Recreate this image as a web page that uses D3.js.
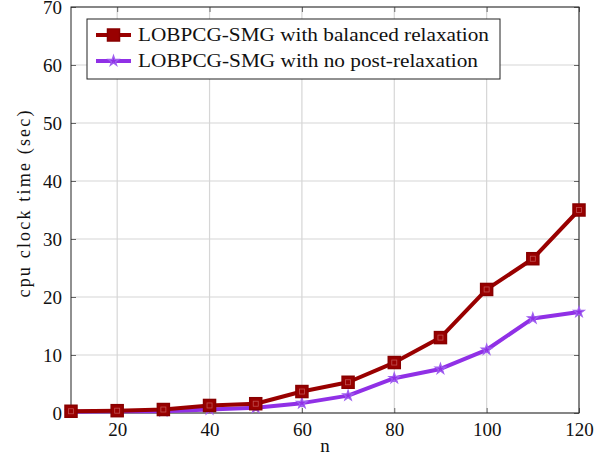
<!DOCTYPE html>
<html>
<head>
<meta charset="utf-8">
<script src="https://cdn.jsdelivr.net/npm/d3@7"></script>
<style>
  html, body { margin: 0; padding: 0; background: #fff; }
  svg { display: block; }
  text { font-family: "Liberation Serif", "DejaVu Serif", serif; fill: #111; }
</style>
</head>
<body>
<svg id="chart" width="605" height="456"></svg>
<script>
// Problem sizes n
const sizes = [10, 20, 30, 40, 50, 60, 70, 80, 90, 100, 110, 120];
// CPU clock time (sec), LOBPCG-SMG with balanced relaxation
const balanced = [0.3, 0.4, 0.6, 1.3, 1.6, 3.7, 5.3, 8.7, 13.0, 21.3, 26.6, 35.0];
// CPU clock time (sec), LOBPCG-SMG with no post-relaxation
const noPost = [0.2, 0.3, 0.3, 0.6, 0.9, 1.7, 3.0, 6.0, 7.6, 10.9, 16.3, 17.4];
const seriesNames = ["LOBPCG-SMG with balanced relaxation", "LOBPCG-SMG with no post-relaxation"];
const xTicks = [20, 40, 60, 80, 100, 120];
const yTicks = [0, 10, 20, 30, 40, 50, 60, 70];

const svg = d3.select("#chart");
const pL = 71, pR = 579, pT = 7, pB = 413;
const fontFam = '"Liberation Serif", "DejaVu Serif", serif';

const x = d3.scaleLinear().domain([10, 120]).range([pL, pR]);
const y = d3.scaleLinear().domain([0, 70]).range([pB, pT]);

// grid
const grid = svg.append("g");
grid.selectAll(".gx").data(xTicks).join("line")
  .attr("x1", d => x(d)).attr("x2", d => x(d))
  .attr("y1", pT).attr("y2", pB)
  .attr("stroke", "#d6d6d6").attr("stroke-width", 1.2);
grid.selectAll(".gy").data(yTicks).join("line")
  .attr("x1", pL).attr("x2", pR)
  .attr("y1", d => y(d)).attr("y2", d => y(d))
  .attr("stroke", "#d6d6d6").attr("stroke-width", 1.2);

// axes with inward ticks
const tickLen = 5;
const xAxisB = d3.axisBottom(x).tickValues(xTicks).tickSize(-tickLen).tickPadding(10);
const xAxisT = d3.axisTop(x).tickValues(xTicks).tickSize(-tickLen).tickFormat("");
const yAxisL = d3.axisLeft(y).tickValues(yTicks).tickSize(-tickLen).tickPadding(9);
const yAxisR = d3.axisRight(y).tickValues(yTicks).tickSize(-tickLen).tickFormat("");

function styleAxis(g) {
  g.select(".domain").remove();
  g.selectAll(".tick line").attr("stroke", "#666").attr("stroke-width", 1);
  g.selectAll(".tick text").style("font-size", "19px").attr("fill", "#111")
    .style("font-family", fontFam);
}
svg.append("g").attr("transform", `translate(0,${pB})`).call(xAxisB).call(styleAxis);
svg.append("g").attr("transform", `translate(0,${pT})`).call(xAxisT).call(styleAxis);
svg.append("g").attr("transform", `translate(${pL},0)`).call(yAxisL).call(styleAxis)
  .selectAll(".tick text").attr("dy", "0.36em");
svg.append("g").attr("transform", `translate(${pR},0)`).call(yAxisR).call(styleAxis);

// frame
svg.append("rect").attr("x", pL).attr("y", pT)
  .attr("width", pR - pL).attr("height", pB - pT)
  .attr("fill", "none").attr("stroke", "#222").attr("stroke-width", 1);

// axis titles
svg.append("text").attr("x", (pL + pR) / 2).attr("y", 452)
  .attr("text-anchor", "middle").style("font-size", "19px").text("n");
svg.append("text")
  .attr("transform", `translate(30,${(pT + pB) / 2 - 6}) rotate(-90)`)
  .attr("text-anchor", "middle").style("font-size", "18px")
  .attr("textLength", 187).attr("lengthAdjust", "spacing")
  .text("cpu clock time (sec)");

const red = "#990000", purple = "#9030e6";
const line = d3.line().x((d, i) => x(sizes[i])).y(d => y(d));

const plot = svg.append("g");

// no post-relaxation series
plot.append("path").datum(noPost).attr("d", line)
  .attr("fill", "none").attr("stroke", purple).attr("stroke-width", 4)
  .attr("stroke-linejoin", "round");
const star = d3.symbol().type(d3.symbolStar).size(34);
plot.selectAll(".mp").data(noPost).join("path")
  .attr("transform", (d, i) => `translate(${x(sizes[i])},${y(d)})`)
  .attr("d", star).attr("fill", purple).attr("stroke", "#a060f0").attr("stroke-width", 1.2);

// balanced relaxation series
plot.append("path").datum(balanced).attr("d", line)
  .attr("fill", "none").attr("stroke", red).attr("stroke-width", 4)
  .attr("stroke-linejoin", "round");
const sq = 12;
const mr = plot.selectAll(".mr").data(balanced).join("g")
  .attr("transform", (d, i) => `translate(${x(sizes[i])},${y(d)})`);
mr.append("rect").attr("x", -sq / 2).attr("y", -sq / 2).attr("width", sq).attr("height", sq)
  .attr("fill", red).attr("stroke", "#880000").attr("stroke-width", 1.5);
mr.append("rect").attr("x", -2.5).attr("y", -2.5).attr("width", 5).attr("height", 5)
  .attr("fill", "none").attr("stroke", "#c05050").attr("stroke-width", 0.8);

// legend
const lg = svg.append("g");
lg.append("rect").attr("x", 87).attr("y", 19).attr("width", 413).attr("height", 60)
  .attr("fill", "#fff").attr("stroke", "#222").attr("stroke-width", 1);
const legendItems = [
  { name: seriesNames[0], color: red, kind: "square", w: 351 },
  { name: seriesNames[1], color: purple, kind: "star", w: 340 }
];
legendItems.forEach((it, i) => {
  const cy = 35 + i * 26;
  lg.append("line").attr("x1", 96).attr("x2", 131).attr("y1", cy).attr("y2", cy)
    .attr("stroke", it.color).attr("stroke-width", 4);
  if (it.kind === "square") {
    lg.append("rect").attr("x", 113.5 - sq / 2).attr("y", cy - sq / 2).attr("width", sq).attr("height", sq)
      .attr("fill", it.color).attr("stroke", "#880000").attr("stroke-width", 1.5);
  } else {
    lg.append("path").attr("transform", `translate(113.5,${cy})`).attr("d", star)
      .attr("fill", it.color).attr("stroke", "#a060f0").attr("stroke-width", 1.2);
  }
  lg.append("text").attr("x", 138).attr("y", cy + 6).style("font-size", "19.5px")
    .attr("textLength", it.w).attr("lengthAdjust", "spacingAndGlyphs").text(it.name);
});
</script>
</body>
</html>
